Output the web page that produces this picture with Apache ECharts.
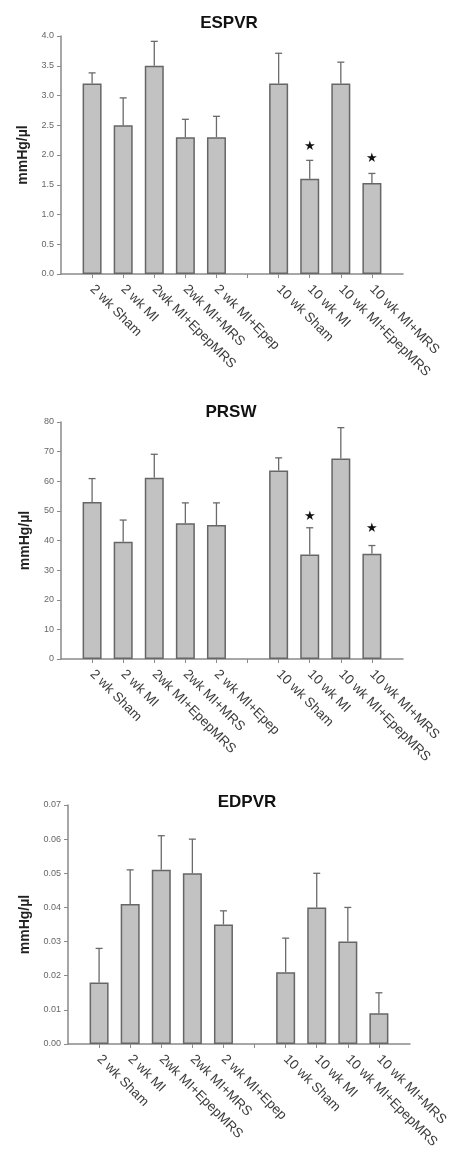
<!DOCTYPE html>
<html>
<head>
<meta charset="utf-8">
<script src="https://cdn.jsdelivr.net/npm/echarts@6/dist/echarts.min.js"></script>
<style>
html,body{margin:0;padding:0;background:#fff;}
#chart{width:452px;height:1161px;}
</style>
</head>
<body>
<div id="chart"></div>
<script>
// Categories (empty strings mark the gap slots at the axis ends and between groups)
const categories = ['', '2 wk Sham', '2 wk MI', '2wk MI+EpepMRS', '2wk MI+MRS', '2 wk MI+Epep', '', '10 wk Sham', '10 wk MI', '10 wk MI+EpepMRS', '10 wk MI+MRS', ''];
const barSlots = [1, 2, 3, 4, 5, 7, 8, 9, 10];

// ESPVR
const espvrMean = [3.2, 2.5, 3.5, 2.3, 2.3, 3.2, 1.6, 3.2, 1.53];
const espvrErrTop = [3.38, 2.96, 3.91, 2.6, 2.65, 3.71, 1.91, 3.56, 1.69];
const espvrStars = [null, null, null, null, null, null, 2.14, null, 1.94];
const espvrTicks = { min: 0, max: 4, interval: 0.5, decimals: 1 };

// PRSW
const prswMean = [53, 39.6, 61.2, 45.8, 45.2, 63.6, 35.3, 67.7, 35.5];
const prswErrTop = [60.9, 46.9, 69.1, 52.7, 52.7, 67.9, 44.3, 78.1, 38.3];
const prswStars = [null, null, null, null, null, null, 48.2, null, 43.9];
const prswTicks = { min: 0, max: 80, interval: 10, decimals: 0 };

// EDPVR
const edpvrMean = [0.018, 0.041, 0.051, 0.050, 0.035, 0.021, 0.040, 0.030, 0.009];
const edpvrErrTop = [0.028, 0.051, 0.061, 0.060, 0.039, 0.031, 0.050, 0.040, 0.015];
const edpvrStars = [null, null, null, null, null, null, null, null, null];
const edpvrTicks = { min: 0, max: 0.07, interval: 0.01, decimals: 2 };

const titles = ['ESPVR', 'PRSW', 'EDPVR'];
const yName = 'mmHg/µl';

const panels = [
  { mean: espvrMean, err: espvrErrTop, stars: espvrStars, ticks: espvrTicks, grid: { left: 61, top: 36, width: 342, height: 238 }, titlePos: { left: 224, top: 10 }, nameGap: 29 },
  { mean: prswMean, err: prswErrTop, stars: prswStars, ticks: prswTicks, grid: { left: 61, top: 422, width: 342, height: 237 }, titlePos: { left: 226, top: 399 }, nameGap: 29 },
  { mean: edpvrMean, err: edpvrErrTop, stars: edpvrStars, ticks: edpvrTicks, grid: { left: 68, top: 805, width: 342, height: 239 }, titlePos: { left: 242, top: 789 }, nameGap: 35 }
];

function slotData(arr) {
  const d = categories.map(() => '-');
  barSlots.forEach((s, i) => { if (arr[i] !== null && arr[i] !== undefined) d[s] = arr[i]; });
  return d;
}

const FONT = 'Liberation Sans, Arial, sans-serif';

const option = {
  animation: false,
  backgroundColor: '#fff',
  title: panels.map((p, i) => ({
    text: titles[i], left: p.titlePos.left, top: p.titlePos.top, textAlign: 'center',
    textStyle: { fontFamily: FONT, fontWeight: 'bold', fontSize: 17, color: '#111' }
  })),
  grid: panels.map(p => Object.assign({ containLabel: false }, p.grid)),
  xAxis: panels.map((p, i) => ({
    type: 'category', gridIndex: i, data: categories, boundaryGap: false,
    axisLine: { lineStyle: { color: '#8a8a8a', width: 1.5 } },
    axisTick: { show: true, length: 4, interval: (idx) => idx >= 1 && idx <= 10, lineStyle: { color: '#8a8a8a' } },
    axisLabel: { interval: 0, rotate: -45, margin: 13, fontFamily: FONT, fontSize: 13.5, color: '#3a3a3a' },
    splitLine: { show: false }
  })),
  yAxis: panels.map((p, i) => ({
    type: 'value', gridIndex: i, min: p.ticks.min, max: p.ticks.max, interval: p.ticks.interval,
    name: yName, nameLocation: 'middle', nameGap: p.nameGap, nameRotate: 90,
    nameTextStyle: { fontFamily: FONT, fontWeight: 'bold', fontSize: 14, color: '#222' },
    axisLine: { show: true, lineStyle: { color: '#8a8a8a', width: 1.5 } },
    axisTick: { show: true, length: 4, lineStyle: { color: '#8a8a8a' } },
    axisLabel: { fontFamily: FONT, fontSize: 9, color: '#666', margin: 7,
      formatter: v => Number(v).toFixed(p.ticks.decimals) },
    splitLine: { show: false }
  })),
  series: []
};

panels.forEach((p, i) => {
  const means = slotData(p.mean);
  option.series.push({
    type: 'bar', xAxisIndex: i, yAxisIndex: i, data: means, barWidth: 19,
    itemStyle: { color: '#c2c2c2', borderColor: '#666', borderWidth: 1.5 }
  });
  option.series.push({
    type: 'custom', xAxisIndex: i, yAxisIndex: i,
    data: barSlots.map((s, k) => [s, p.mean[k], p.err[k]]),
    renderItem: (params, api) => {
      const base = api.coord([api.value(0), api.value(1)]);
      const top = api.coord([api.value(0), api.value(2)]);
      const style = { stroke: '#6a6a6a', lineWidth: 1.3 };
      return { type: 'group', children: [
        { type: 'line', shape: { x1: base[0], y1: base[1], x2: top[0], y2: top[1] }, style },
        { type: 'line', shape: { x1: top[0] - 3.5, y1: top[1], x2: top[0] + 3.5, y2: top[1] }, style }
      ] };
    },
    z: 3
  });
  option.series.push({
    type: 'custom', xAxisIndex: i, yAxisIndex: i,
    data: barSlots.map((s, k) => [s, p.stars[k]]).filter(d => d[1] !== null),
    renderItem: (params, api) => {
      const c = api.coord([api.value(0), api.value(1)]);
      return { type: 'text', x: c[0], y: c[1], style: { text: '★', fontSize: 13, fill: '#111', align: 'center', verticalAlign: 'middle', fontFamily: 'DejaVu Sans' } };
    },
    z: 4
  });
});

const chart = echarts.init(document.getElementById('chart'), null, { renderer: 'canvas' });
chart.setOption(option);
</script>
</body>
</html>
